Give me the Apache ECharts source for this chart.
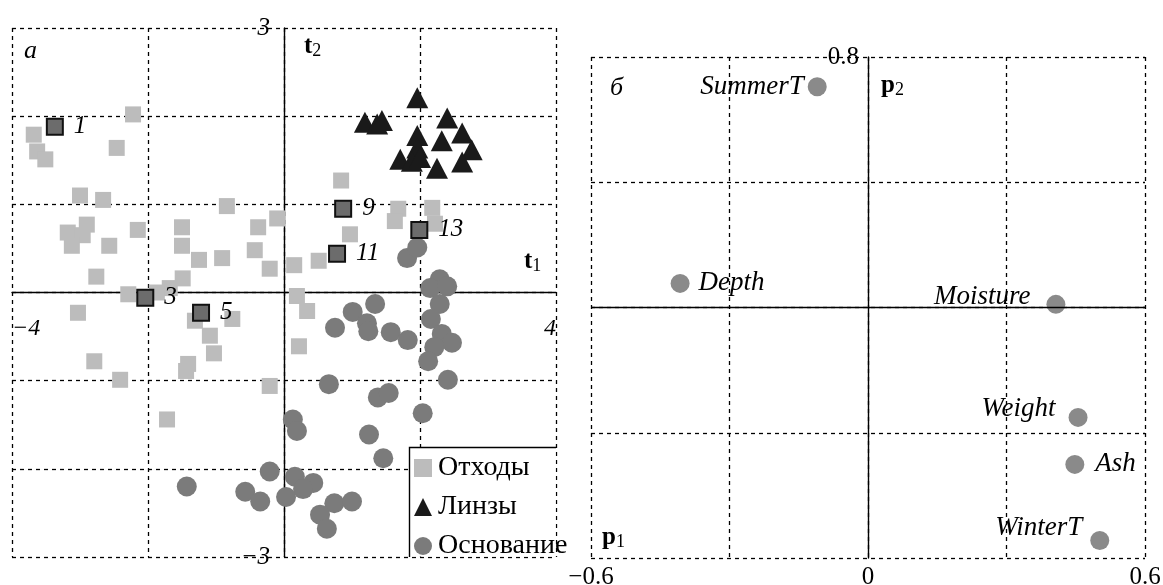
<!DOCTYPE html>
<html>
<head>
<meta charset="utf-8">
<script src="https://cdn.jsdelivr.net/npm/echarts@6/dist/echarts.min.js"></script>
<style>
  html, body { margin: 0; padding: 0; background: #fff; }
  #chart { width: 1163px; height: 585px; }
</style>
</head>
<body>
<div id="chart"></div>
<script>
// ---- Panel а: sample scores on t1 / t2 ----
const wasteScores = [
  [-2.22, 2.02], [-3.68, 1.79], [-3.63, 1.60], [-3.51, 1.51], [-2.46, 1.64],
  [-3.00, 1.10], [-2.66, 1.05], [-0.84, 0.98], [-3.18, 0.68], [-2.90, 0.77],
  [-2.96, 0.65], [-3.12, 0.53], [-2.15, 0.71], [-2.57, 0.53], [-1.50, 0.74],
  [-1.50, 0.53], [-1.25, 0.37], [-0.91, 0.39], [-0.38, 0.74], [-0.10, 0.84],
  [-0.43, 0.48], [-0.21, 0.27], [0.15, 0.31], [0.51, 0.36], [0.97, 0.66],
  [0.84, 1.27], [1.68, 0.95], [1.63, 0.81], [2.18, 0.96], [2.22, 0.78],
  [-2.76, 0.18], [-1.49, 0.16], [-1.68, 0.05], [-1.87, 0.00], [-2.29, -0.02],
  [0.19, -0.04], [0.34, -0.21], [0.22, -0.61], [-3.03, -0.23], [-1.31, -0.32],
  [-0.76, -0.30], [-1.09, -0.49], [-1.03, -0.69], [-1.41, -0.81], [-1.44, -0.89],
  [-2.79, -0.78], [-2.41, -0.99], [-0.21, -1.06], [-1.72, -1.44]
];
const lensScores = [
  [1.96, 2.21], [1.19, 1.93], [1.37, 1.91], [1.44, 1.95], [2.40, 1.98],
  [2.62, 1.81], [1.96, 1.78], [2.32, 1.72], [2.76, 1.62], [1.96, 1.64],
  [1.71, 1.51], [1.88, 1.49], [2.00, 1.53], [2.25, 1.41], [2.62, 1.48]
];
const baseScores = [
  [1.81, 0.39], [1.96, 0.51], [2.29, 0.15], [2.15, 0.05], [2.40, 0.07],
  [2.29, -0.13], [2.16, -0.30], [2.32, -0.47], [2.47, -0.57], [2.21, -0.62],
  [2.12, -0.78], [2.41, -0.99], [0.75, -0.40], [1.01, -0.22], [1.34, -0.13],
  [1.22, -0.35], [1.24, -0.44], [1.57, -0.45], [1.82, -0.54], [0.66, -1.04],
  [1.38, -1.19], [1.54, -1.14], [2.04, -1.37], [0.13, -1.44], [0.19, -1.57],
  [1.25, -1.61], [1.46, -1.88], [-0.21, -2.03], [0.16, -2.09], [0.43, -2.16],
  [0.28, -2.23], [0.03, -2.32], [-0.57, -2.26], [-0.35, -2.37], [-1.43, -2.20],
  [0.74, -2.39], [1.00, -2.37], [0.53, -2.52], [0.63, -2.68]
];
// numbered samples
const sampleIds = ['1', '3', '5', '9', '11', '13'];
const sampleT1 = [-3.37, -2.04, -1.22, 0.87, 0.78, 1.99];
const sampleT2 = [1.88, -0.06, -0.23, 0.95, 0.44, 0.71];

const seriesNames = ['Отходы', 'Линзы', 'Основание'];
const tTickX = { '-4': '−4', '4': '4' };
const tTickY = { '3': '3', '-3': '−3' };

// ---- Panel б: variable loadings on p1 / p2 ----
const varNames = ['SummerT', 'Depth', 'Moisture', 'Weight', 'Ash', 'WinterT'];
const varP1 = [-0.110, -0.407, 0.407, 0.455, 0.448, 0.502];
const varP2 = [0.705, 0.077, 0.010, -0.351, -0.501, -0.744];
const pTickX = { '-60': '−0.6', '0': '0', '60': '0.6' };
const pTickY = { '80': '0.8' };

// label placement for each loading
const varLabelPlace = {
  SummerT:  { position: 'left',  distance: 4,  offset: [0, 0] },
  Depth:    { position: 'right', distance: 9,  offset: [0, 0] },
  Moisture: { position: 'left',  distance: 16, offset: [0, -7] },
  Weight:   { position: 'left',  distance: 13, offset: [0, -9] },
  Ash:      { position: 'right', distance: 11, offset: [0, 0] },
  WinterT:  { position: 'left',  distance: 8,  offset: [0, -13] }
};

const SERIF = '"Liberation Serif", "DejaVu Serif", serif';
const keyOf = v => String(Math.round(v * 100) / 100);
const keyOf100 = v => String(Math.round(v * 100));

const dashed = { color: '#000', type: [4, 4], width: 1.3 };
const solid = { color: '#000', width: 1.4 };

// plot areas
const gridA = { left: 12, top: 28, width: 544, height: 529 };
const gridB = { left: 591, top: 57, width: 554, height: 501 };
const rangeA = { x: [-4, 4], y: [-3, 3] };
const rangeB = { x: [-0.6, 0.6], y: [-0.8, 0.8] };

// shift of an axis from the grid edge to the zero of the other axis
const zeroShift = (size, r) => -size * (0 - r[0]) / (r[1] - r[0]);

const chart = echarts.init(document.getElementById('chart'), null, { renderer: 'canvas' });

chart.setOption({
  animation: false,
  backgroundColor: '#fff',
  grid: [
    Object.assign({ containLabel: false, outerBoundsMode: 'none' }, gridA),
    Object.assign({ containLabel: false, outerBoundsMode: 'none' }, gridB)
  ],
  xAxis: [
    {
      gridIndex: 0, type: 'value', min: rangeA.x[0], max: rangeA.x[1], interval: 2,
      position: 'bottom', offset: zeroShift(gridA.height, rangeA.y),
      axisLine: { onZero: false, lineStyle: solid },
      axisTick: { show: false },
      splitLine: { show: true, lineStyle: dashed },
      axisLabel: {
        formatter: v => tTickX[keyOf(v)] || '',
        margin: 24, color: '#000', fontFamily: SERIF, fontStyle: 'italic', fontSize: 24,
        showMinLabel: true, showMaxLabel: true,
        alignMinLabel: 'left', alignMaxLabel: 'right'
      }
    },
    {
      gridIndex: 1, type: 'value', min: rangeB.x[0], max: rangeB.x[1], interval: 0.3,
      position: 'bottom',
      axisLine: { show: false, onZero: false },
      axisTick: { show: false },
      splitLine: { show: true, lineStyle: dashed },
      axisLabel: {
        formatter: v => pTickX[keyOf100(v)] || '',
        margin: 7, color: '#000', fontFamily: SERIF, fontSize: 25,
        showMinLabel: true, showMaxLabel: true
      }
    }
  ],
  yAxis: [
    {
      gridIndex: 0, type: 'value', min: rangeA.y[0], max: rangeA.y[1], interval: 1,
      position: 'left', offset: zeroShift(gridA.width, rangeA.x),
      axisLine: { onZero: false, lineStyle: solid },
      axisTick: { show: false },
      splitLine: { show: true, lineStyle: dashed },
      axisLabel: {
        formatter: v => tTickY[keyOf(v)] || '',
        margin: 14, color: '#000', fontFamily: SERIF, fontStyle: 'italic', fontSize: 25,
        showMinLabel: true, showMaxLabel: true
      }
    },
    {
      gridIndex: 1, type: 'value', min: rangeB.y[0], max: rangeB.y[1], interval: 0.4,
      position: 'left', offset: zeroShift(gridB.width, rangeB.x),
      axisLine: { onZero: false, lineStyle: solid },
      axisTick: { show: false },
      splitLine: { show: true, lineStyle: dashed },
      axisLabel: {
        formatter: v => pTickY[keyOf100(v)] || '',
        margin: 9, color: '#000', fontFamily: SERIF, fontSize: 25,
        showMinLabel: true, showMaxLabel: true
      }
    }
  ],
  legend: {
    data: [
      { name: seriesNames[0], icon: 'rect' },
      { name: seriesNames[1], icon: 'triangle' },
      { name: seriesNames[2], icon: 'circle' }
    ],
    orient: 'vertical', left: 414, top: 454, padding: 0,
    itemWidth: 18, itemHeight: 18, itemGap: 11,
    selectedMode: false, z: 6,
    textStyle: { color: '#000', fontFamily: SERIF, fontSize: 28, padding: [0, 0, 0, 1] }
  },
  graphic: [
    // legend panel: white fill with solid left/top edges
    { type: 'rect', z: 4, silent: true,
      shape: { x: 409, y: 447, width: 146.5, height: 109.5 },
      style: { fill: '#fff' } },
    { type: 'polyline', z: 5, silent: true,
      shape: { points: [[409.5, 557], [409.5, 447.5], [556, 447.5]] },
      style: { stroke: '#000', lineWidth: 1.4, fill: null } },
    // panel letters and axis names
    { type: 'text', z: 5, left: 24, top: 38,
      style: { text: 'а', font: 'italic 26px ' + SERIF, fill: '#000' } },
    { type: 'text', z: 5, left: 610, top: 75,
      style: { text: 'б', font: 'italic 26px ' + SERIF, fill: '#000' } },
    { type: 'text', z: 5, left: 304, top: 34,
      style: { text: '{b|t}{s|2}', fill: '#000',
        rich: { b: { fontFamily: SERIF, fontWeight: 'bold', fontSize: 25, fill: '#000' },
                s: { fontFamily: SERIF, fontSize: 18, padding: [10, 0, 0, 0], fill: '#000' } } } },
    { type: 'text', z: 5, left: 524, top: 249,
      style: { text: '{b|t}{s|1}', fill: '#000',
        rich: { b: { fontFamily: SERIF, fontWeight: 'bold', fontSize: 25, fill: '#000' },
                s: { fontFamily: SERIF, fontSize: 18, padding: [10, 0, 0, 0], fill: '#000' } } } },
    { type: 'text', z: 5, left: 881, top: 73,
      style: { text: '{b|p}{s|2}', fill: '#000',
        rich: { b: { fontFamily: SERIF, fontWeight: 'bold', fontSize: 25, fill: '#000' },
                s: { fontFamily: SERIF, fontSize: 18, padding: [10, 0, 0, 0], fill: '#000' } } } },
    { type: 'text', z: 5, left: 602, top: 525,
      style: { text: '{b|p}{s|1}', fill: '#000',
        rich: { b: { fontFamily: SERIF, fontWeight: 'bold', fontSize: 25, fill: '#000' },
                s: { fontFamily: SERIF, fontSize: 18, padding: [10, 0, 0, 0], fill: '#000' } } } }
  ],
  series: [
    {
      name: seriesNames[0], type: 'scatter', xAxisIndex: 0, yAxisIndex: 0,
      symbol: 'rect', symbolSize: 16, z: 2,
      itemStyle: { color: '#bcbcbc', opacity: 1 },
      emphasis: { disabled: true },
      data: wasteScores
    },
    {
      name: seriesNames[2], type: 'scatter', xAxisIndex: 0, yAxisIndex: 0,
      symbol: 'circle', symbolSize: 20, z: 2,
      itemStyle: { color: '#7b7b7b', opacity: 1 },
      emphasis: { disabled: true },
      data: baseScores
    },
    {
      name: seriesNames[1], type: 'scatter', xAxisIndex: 0, yAxisIndex: 0,
      symbol: 'triangle', symbolSize: [22, 21], z: 2,
      itemStyle: { color: '#1a1a1a', opacity: 1 },
      emphasis: { disabled: true },
      data: lensScores
    },
    {
      name: 'samples', type: 'scatter', xAxisIndex: 0, yAxisIndex: 0,
      symbol: 'rect', symbolSize: 16, z: 3,
      itemStyle: { color: '#6c6c6c', borderColor: '#111', borderWidth: 2, opacity: 1 },
      emphasis: { disabled: true },
      label: {
        show: true, position: 'right', distance: 10,
        formatter: p => p.name,
        color: '#000', fontFamily: SERIF, fontStyle: 'italic', fontSize: 25
      },
      data: sampleIds.map((id, i) => ({ name: id, value: [sampleT1[i], sampleT2[i]] }))
    },
    {
      name: 'loadings', type: 'scatter', xAxisIndex: 1, yAxisIndex: 1,
      symbol: 'circle', symbolSize: 19, z: 3,
      itemStyle: { color: '#8a8a8a', opacity: 1 },
      emphasis: { disabled: true },
      label: {
        show: true, formatter: p => p.name,
        color: '#000', fontFamily: SERIF, fontStyle: 'italic', fontSize: 27
      },
      markLine: {
        silent: true, symbol: 'none', animation: false,
        label: { show: false },
        lineStyle: { color: '#000', type: 'solid', width: 1.4 },
        data: [{ yAxis: 0 }]
      },
      data: varNames.map((n, i) => ({
        name: n, value: [varP1[i], varP2[i]],
        label: varLabelPlace[n]
      }))
    }
  ]
});
</script>
</body>
</html>
